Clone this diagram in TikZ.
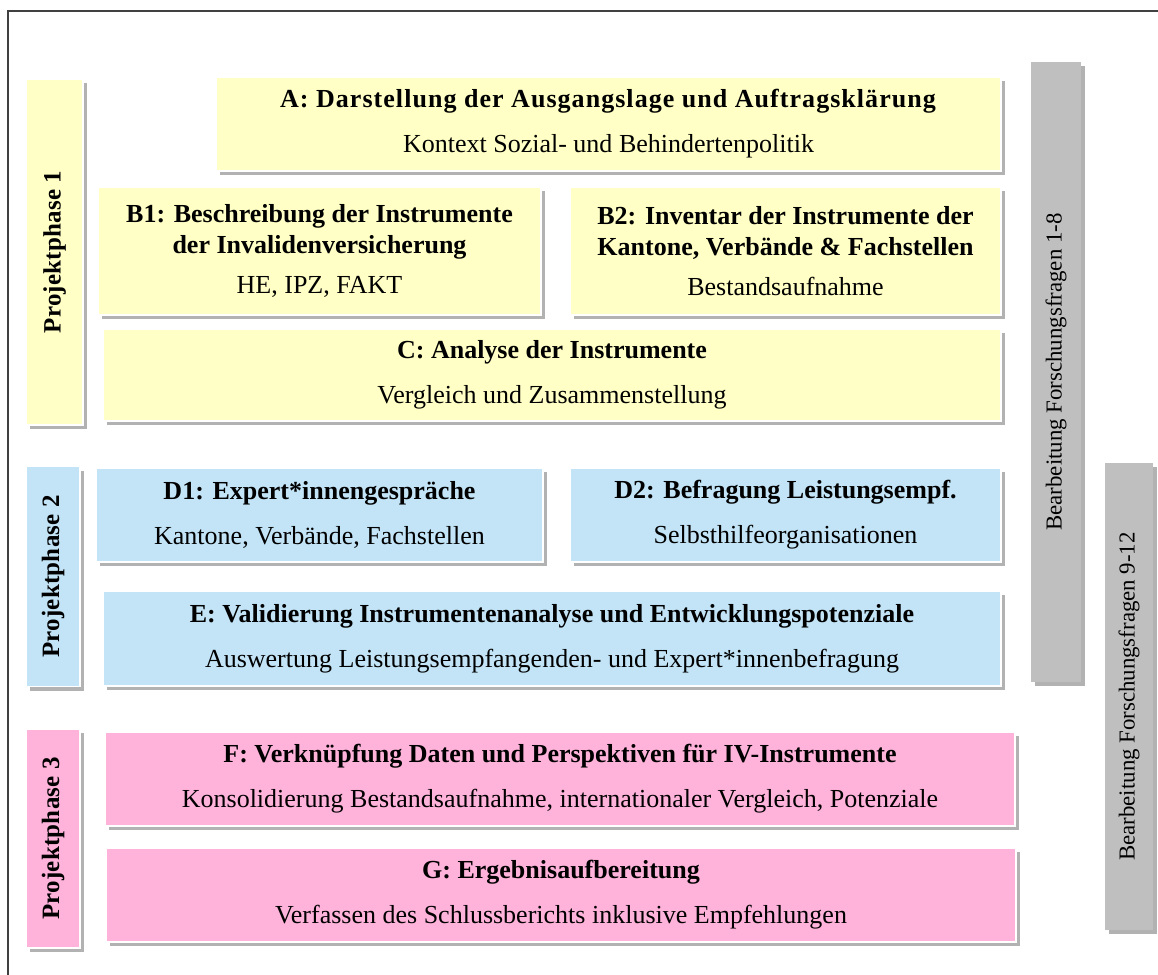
\documentclass[tikz,border=0pt]{standalone}
\usepackage{fontspec}
\setmainfont{Liberation Serif}
\usepackage{xcolor}
\usepackage{tikz}
\usetikzlibrary{shadows}

\definecolor{phaseyellow}{HTML}{FFFFC6}
\definecolor{phaseblue}{HTML}{C2E4F6}
\definecolor{phasepink}{HTML}{FFB3DB}
\definecolor{bargray}{HTML}{BFBFBF}

\begin{document}
\begin{tikzpicture}[
  x=0.02cm, y=-0.02cm,
  box/.style={rectangle, draw=white, line width=0.8pt, align=center,
              inner sep=0pt, font=\fontsize{14.8}{17.5}\selectfont,
              drop shadow={shadow xshift=2.5pt, shadow yshift=-2.5pt,
                           fill=black, opacity=0.3}},
  ybox/.style={box, fill=phaseyellow},
  bbox/.style={box, fill=phaseblue},
  pbox/.style={box, fill=phasepink},
  gbar/.style={box, fill=bargray, draw=none},
  phaselbl/.style={rotate=90, font=\fontsize{14.2}{17}\selectfont\bfseries\addfontfeature{LetterSpace=1}},
  barlbl/.style={rotate=90, font=\fontsize{13}{15}\selectfont},
  frame/.style={line width=1.2pt, draw=black!75}
]
  \useasboundingbox (0,0) rectangle (1158,974);
  \draw[frame] (8,1000) |- (1180,11);

  \node[ybox, minimum width=1.14cm, minimum height=6.92cm] (ph1) at (54.5,252) {};
  \node[phaselbl] at (ph1) {Projektphase 1};
  \node[bbox, minimum width=1.08cm, minimum height=4.4cm] (ph2) at (53,576.5) {};
  \node[phaselbl] at (ph2) {Projektphase 2};
  \node[pbox, minimum width=1.08cm, minimum height=4.38cm] (ph3) at (53,838.5) {};
  \node[phaselbl] at (ph3) {Projektphase 3};

  \node[ybox, minimum width=15.7cm, minimum height=1.88cm] (A) at (608.5,124)
    {\addfontfeature{LetterSpace=4}\textbf{A: Darstellung der Ausgangslage und Auftragsklärung}\\[8pt]
     Kontext Sozial- und Behindertenpolitik};
  \node[ybox, minimum width=8.86cm, minimum height=2.56cm] (B1) at (319.5,251)
    {\fontsize{14.8}{18}\selectfont\textbf{B1: Beschreibung der Instrumente}\\
     \textbf{der Invalidenversicherung}\\[5pt] HE, IPZ, FAKT};
  \node[ybox, minimum width=8.62cm, minimum height=2.56cm] (B2) at (785.5,251)
    {\fontsize{14.8}{18}\selectfont\textbf{B2: Inventar der Instrumente der}\\
     \textbf{Kantone, Verbände \& Fachstellen}\\[5pt] Bestandsaufnahme};
  \node[ybox, minimum width=17.96cm, minimum height=1.84cm] (C) at (552,375)
    {\textbf{C: Analyse der Instrumente}\\[8pt] Vergleich und Zusammenstellung};

  \node[bbox, minimum width=8.94cm, minimum height=1.88cm] (D1) at (319.5,515)
    {\textbf{D1: Expert*innengespräche}\\[8pt] Kantone, Verbände, Fachstellen};
  \node[bbox, minimum width=8.62cm, minimum height=1.88cm] (D2) at (785.5,515)
    {\textbf{D2: Befragung Leistungsempf.}\\[8pt] Selbsthilfeorganisationen};
  \node[bbox, minimum width=17.96cm, minimum height=1.9cm] (E) at (552,638.5)
    {\textbf{E: Validierung Instrumentenanalyse und Entwicklungspotenziale}\\[8pt]
     Auswertung Leistungsempfangenden- und Expert*innenbefragung};

  \node[pbox, minimum width=18.2cm, minimum height=1.88cm] (F) at (560,779)
    {\textbf{F: Verknüpfung Daten und Perspektiven für IV-Instrumente}\\[8pt]
     Konsolidierung Bestandsaufnahme, internationaler Vergleich, Potenziale};
  \node[pbox, minimum width=18.2cm, minimum height=1.88cm] (G) at (561,895)
    {\textbf{G: Ergebnisaufbereitung}\\[8pt]
     Verfassen des Schlussberichts inklusive Empfehlungen};

  \node[gbar, minimum width=1.0cm, minimum height=12.4cm] (fq1) at (1056,372) {};
  \node[barlbl] at (fq1) {Bearbeitung Forschungsfragen 1-8};
  \node[gbar, minimum width=0.96cm, minimum height=9.34cm] (fq2) at (1129,696.5) {};
  \node[barlbl] at (fq2) {Bearbeitung Forschungsfragen 9-12};
\end{tikzpicture}
\end{document}
